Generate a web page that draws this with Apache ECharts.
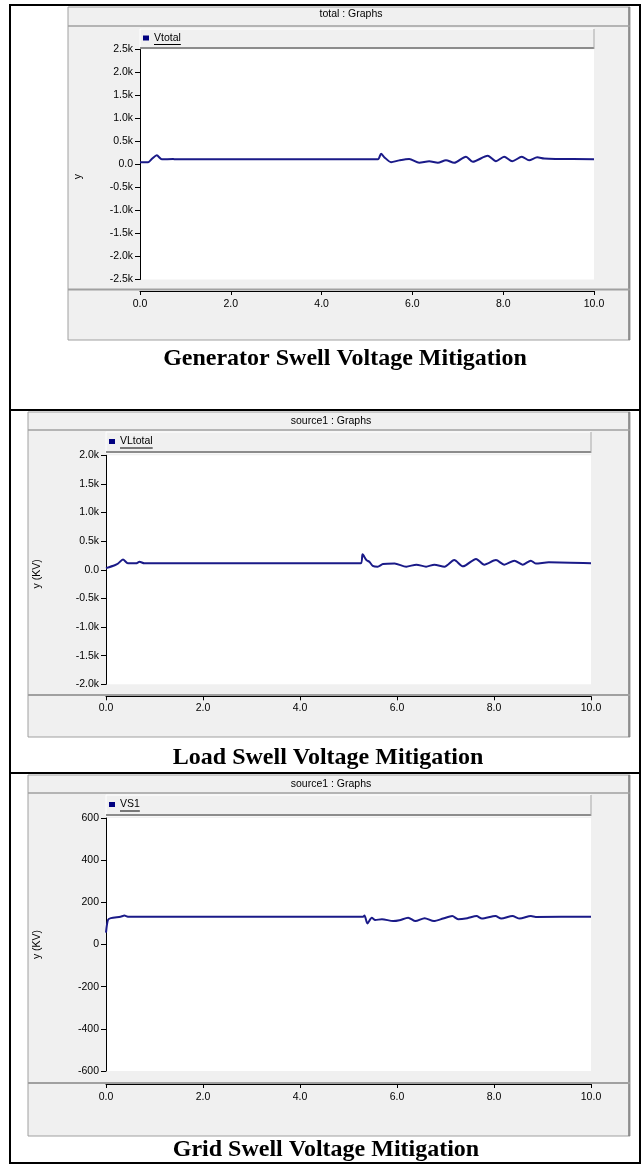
<!DOCTYPE html>
<html><head><meta charset="utf-8">
<script src="https://cdn.jsdelivr.net/npm/echarts@6/dist/echarts.min.js"></script>
<style>html,body{margin:0;padding:0;background:#fff}#c{width:641px;height:1165px}</style>
</head><body><div id="c"></div>
<script>
// ---- data ----
const timeGen = [0, 0.18, 0.27, 0.37, 0.48, 0.73, 0.78, 5.24, 5.31, 5.38, 5.53, 5.71, 5.93, 6.15, 6.37, 6.56, 6.74, 6.92, 7.18, 7.33, 7.66, 7.84, 8.02, 8.2, 8.41, 8.57, 8.75, 8.9, 9.15, 10];
const vGen    = [50, 50, 130, 200, 112, 120, 112, 115, 235, 160, 50, 90, 120, 40, 70, 36, 95, 36, 170, 60, 190, 70, 170, 70, 170, 90, 155, 130, 120, 115];
const timeLoad = [0, 0.18, 0.25, 0.35, 0.45, 0.62, 0.69, 0.79, 5.25, 5.29, 5.37, 5.43, 5.5, 5.6, 5.71, 5.95, 6.19, 6.4, 6.6, 6.77, 6.98, 7.18, 7.36, 7.63, 7.8, 8.04, 8.21, 8.42, 8.59, 8.76, 8.86, 9.13, 10];
const vLoad    = [30, 80, 110, 180, 113, 113, 140, 113, 113, 270, 170, 140, 70, 55, 100, 110, 55, 90, 55, 90, 55, 170, 60, 190, 90, 170, 90, 160, 90, 160, 110, 130, 113];
const timeGrid = [0, 0.04, 0.1, 0.3, 0.38, 0.45, 5.3, 5.33, 5.39, 5.48, 5.55, 5.69, 5.92, 6.05, 6.23, 6.38, 6.57, 6.76, 6.95, 7.14, 7.26, 7.45, 7.64, 7.75, 8.03, 8.15, 8.38, 8.53, 8.76, 8.86, 10];
const vGrid    = [56, 116, 125, 132, 137, 132, 132, 138, 100, 127, 116, 120, 111, 115, 127, 111, 125, 111, 123, 135, 120, 125, 135, 123, 135, 123, 135, 123, 135, 131, 132];

const graphTitles = ['total : Graphs', 'source1 : Graphs', 'source1 : Graphs'];
const seriesNames = ['Vtotal', 'VLtotal', 'VS1'];
const yNames = ['y', 'y (KV)', 'y (KV)'];
const captions = ['Generator Swell Voltage Mitigation', 'Load Swell Voltage Mitigation', 'Grid Swell Voltage Mitigation'];
const yMin = [-2500, -2000, -600];
const yMax = [2500, 2000, 600];
const yStep = [500, 500, 200];
const xMin = 0, xMax = 10, xStep = 2;

// ---- layout ----
const P = [
  {fx:68, fy:7,   fr:630, fb:340,  tb:26,  ty:14,  l0:29,  l1:49,  gl:140, gr:594, gt:49.5,  gb:279.5, off:11.5, lm:8, sep:289.5, capY:359,  capX:345, ng:56, np:[0, 24, 0, 0]},
  {fx:28, fy:412, fr:630, fb:737,  tb:430, ty:421, l0:432, l1:453, gl:106, gr:591, gt:455.3, gb:684.3, off:12,   lm:6, sep:695,   capY:758,  capX:328, ng:63, np:[0, 8, 0, 0]},
  {fx:28, fy:775, fr:630, fb:1136, tb:793, ty:784, l0:795, l1:816, gl:106, gr:591, gt:818,   gb:1071,  off:13,   lm:8, sep:1083,  capY:1150, capX:326, ng:63, np:[0, 0, 0, 0]}
];
const W = 641, H = 1165;
const FONT = "'Liberation Sans',Arial,sans-serif";
const FS = 10.5;
const LINE = '#1a1a88';

const mctx = document.createElement('canvas').getContext('2d');
mctx.font = FS + "px " + FONT;

const seriesData = [
  timeGen.map((t, i) => [t, vGen[i]]),
  timeLoad.map((t, i) => [t, vLoad[i]]),
  timeGrid.map((t, i) => [t, vGrid[i]])
];

function yFmt(i) {
  return function (v) {
    if (i === 2) return String(v);
    if (v === 0) return '0.0';
    return (v / 1000).toFixed(1) + 'k';
  };
}

const grids = [], xAxes = [], yAxes = [], series = [], legends = [], graphics = [];
P.forEach((p, i) => {
  grids.push({left: p.gl, top: p.gt, width: p.gr - p.gl, height: p.gb - p.gt,
    show: true, backgroundColor: '#ffffff', borderWidth: 0, containLabel: false, outerBoundsMode: 'none'});
  xAxes.push({gridIndex: i, type: 'value', min: xMin, max: xMax, interval: xStep, offset: p.off,
    axisLine: {show: true, onZero: false, lineStyle: {color: '#000', width: 1}},
    axisTick: {show: true, length: 4, lineStyle: {color: '#000'}},
    axisLabel: {color: '#000', fontSize: FS, fontFamily: FONT, margin: p.lm, formatter: v => v.toFixed(1)},
    splitLine: {show: false}});
  yAxes.push({gridIndex: i, type: 'value', min: yMin[i], max: yMax[i], interval: yStep[i],
    name: yNames[i], nameLocation: 'middle', nameRotate: 90, nameGap: p.ng,
    nameTextStyle: {color: '#000', fontSize: FS, fontFamily: FONT, padding: p.np},
    axisLine: {show: true, onZero: false, lineStyle: {color: '#000', width: 1}},
    axisTick: {show: true, length: 5, lineStyle: {color: '#000'}},
    axisLabel: {color: '#000', fontSize: FS, fontFamily: FONT, margin: 7, formatter: yFmt(i)},
    splitLine: {show: false}});
  series.push({name: seriesNames[i], type: 'line', xAxisIndex: i, yAxisIndex: i, data: seriesData[i],
    showSymbol: false, symbol: 'none', smooth: 0.25, lineStyle: {color: LINE, width: 2}, itemStyle: {color: '#000080'}, z: 3});
  const legCy = (p.l0 + p.l1) / 2 - 1;
  legends.push({data: [seriesNames[i]], left: p.gl + 3, top: legCy - 6, padding: 0, icon: 'rect',
    itemWidth: 6, itemHeight: 5, itemGap: 5, selectedMode: false,
    textStyle: {color: '#000', fontSize: FS, fontFamily: FONT, lineHeight: 12}});

  // frame background
  graphics.push({type: 'rect', z: -20, shape: {x: p.fx, y: p.fy, width: p.fr - p.fx, height: p.fb - p.fy},
    style: {fill: '#f0f0f0', stroke: '#a0a0a0', lineWidth: 1}});
  graphics.push({type: 'line', z: -19, shape: {x1: p.fr - 1, y1: p.fy, x2: p.fr - 1, y2: p.fb}, style: {stroke: '#7a7a7a', lineWidth: 1.5}});
  // title bar separator
  graphics.push({type: 'line', z: -15, shape: {x1: p.fx, y1: p.tb, x2: p.fr, y2: p.tb}, style: {stroke: '#a0a0a0', lineWidth: 1.5}});
  graphics.push({type: 'text', z: 5, x: (p.fx + p.fr) / 2 + 2, y: p.ty,
    style: {text: graphTitles[i], fill: '#000', font: FS + 'px ' + FONT, textAlign: 'center', textVerticalAlign: 'middle'}});
  // legend bar
  graphics.push({type: 'rect', z: -15, shape: {x: p.gl, y: p.l0, width: p.gr - p.gl, height: p.l1 - p.l0},
    style: {fill: '#f0f0f0', stroke: '#ffffff', lineWidth: 1}});
  graphics.push({type: 'line', z: -14, shape: {x1: p.gl, y1: p.l1 - 1, x2: p.gr, y2: p.l1 - 1}, style: {stroke: '#8c8c8c', lineWidth: 2}});
  graphics.push({type: 'line', z: -14, shape: {x1: p.gr, y1: p.l0, x2: p.gr, y2: p.l1}, style: {stroke: '#a0a0a0', lineWidth: 1}});
  // underline of legend text
  const tw = mctx.measureText(seriesNames[i]).width;
  const tx = p.gl + 3 + 6 + 5;
  graphics.push({type: 'line', z: 5, shape: {x1: tx, y1: legCy + 6.5, x2: tx + tw, y2: legCy + 6.5}, style: {stroke: '#000', lineWidth: 1}});
  // x-axis separator
  graphics.push({type: 'line', z: -14, shape: {x1: p.fx, y1: p.sep, x2: p.fr, y2: p.sep}, style: {stroke: '#a0a0a0', lineWidth: 2}});
  // caption
  graphics.push({type: 'text', z: 5, x: p.capX, y: p.capY,
    style: {text: captions[i], fill: '#000', font: "bold 24px 'Liberation Serif','Times New Roman',serif", textAlign: 'center', textVerticalAlign: 'middle'}});
});

// outer table borders
const B = [
  [9, 4, 632, 2], [9, 409, 632, 2], [9, 772, 632, 2], [9, 1162, 632, 2],
  [9, 4, 2, 1160], [639, 4, 2, 1160]
];
B.forEach(b => graphics.push({type: 'rect', z: 20, shape: {x: b[0], y: b[1], width: b[2], height: b[3]}, style: {fill: '#000'}}));

const chart = echarts.init(document.getElementById('c'), null, {renderer: 'canvas', width: W, height: H});
chart.setOption({
  animation: false,
  backgroundColor: '#ffffff',
  grid: grids, xAxis: xAxes, yAxis: yAxes, series: series, legend: legends,
  graphic: {elements: graphics}
});
</script>
</body></html>
